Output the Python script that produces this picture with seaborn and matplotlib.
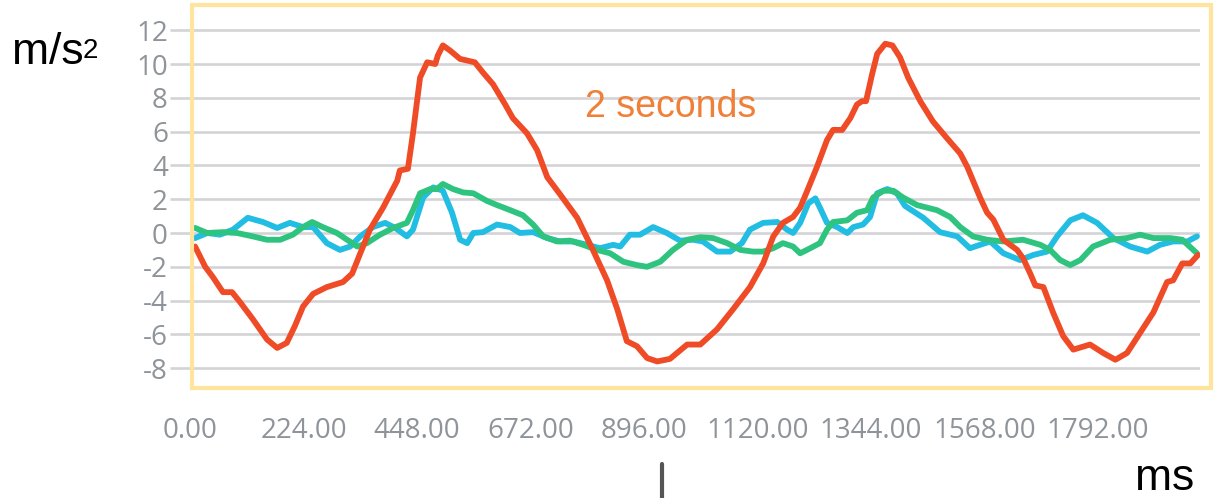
import matplotlib
matplotlib.use("Agg")
import matplotlib.pyplot as plt
import seaborn as sns
import pandas as pd
from matplotlib.patches import Rectangle
from matplotlib.lines import Line2D

sns.set_theme(style="white")
plt.rcParams["font.family"] = ["Open Sans", "DejaVu Sans"]

# Acceleration samples (time in ms, value in m/s^2)
vertical = [
    (10, -0.8), (30, -2.0), (45, -2.6), (65, -3.5), (83, -3.5), (99, -4.1),
    (124, -5.1), (152, -6.3), (172, -6.8), (191, -6.5), (207, -5.5), (223, -4.35),
    (243, -3.6), (270, -3.2), (302, -2.9), (320, -2.4), (336, -1.2), (355, 0.2),
    (381, 1.5), (409, 3.1), (414, 3.7), (430, 3.8), (440, 5.9), (448, 7.8),
    (454, 9.2), (468, 10.1), (484, 10.0), (489, 10.5), (499, 11.1), (513, 10.8),
    (533, 10.3), (562, 10.1), (578, 9.5), (598, 8.8), (622, 7.6), (637, 6.8),
    (665, 5.9), (685, 4.9), (705, 3.3), (730, 2.3), (764, 0.9), (795, -1.0),
    (823, -2.8), (843, -4.5), (862, -6.4), (882, -6.7), (902, -7.4), (922, -7.6),
    (947, -7.45), (981, -6.6), (1007, -6.6), (1040, -5.7), (1072, -4.5),
    (1105, -3.2), (1131, -1.8), (1151, -0.2), (1170, 0.6), (1190, 0.95),
    (1204, 1.5), (1218, 2.5), (1237, 3.9), (1257, 5.5), (1269, 6.1), (1287, 6.1),
    (1303, 6.8), (1316, 7.6), (1326, 7.8), (1334, 7.8), (1346, 9.4), (1356, 10.6),
    (1372, 11.2), (1386, 11.1), (1401, 10.4), (1417, 9.2), (1441, 7.8),
    (1466, 6.6), (1494, 5.6), (1520, 4.7), (1534, 3.9), (1559, 2.1), (1573, 1.2),
    (1585, 0.8), (1605, -0.4), (1632, -1.0), (1644, -1.5), (1658, -2.4),
    (1668, -3.1), (1684, -3.2), (1703, -4.7), (1723, -6.1), (1743, -6.9),
    (1776, -6.6), (1802, -7.1), (1826, -7.5), (1849, -7.1), (1875, -5.9),
    (1901, -4.7), (1928, -2.9), (1940, -2.8), (1958, -1.8), (1974, -1.8),
    (1989, -1.3),
]

lateral = [
    (10, -0.3), (34, 0.0), (59, -0.1), (85, 0.2), (114, 0.9), (144, 0.65),
    (172, 0.3), (197, 0.6), (223, 0.35), (243, 0.35), (270, -0.6), (296, -1.0),
    (316, -0.8), (336, -0.2), (361, 0.35), (385, 0.6), (405, 0.3), (428, -0.2),
    (440, 0.2), (460, 2.1), (480, 2.7), (499, 2.5), (517, 1.2), (533, -0.4),
    (547, -0.6), (559, 0.0), (578, 0.05), (606, 0.5), (632, 0.35), (651, 0.0),
    (677, 0.05), (705, -0.3), (730, -0.5), (756, -0.5), (784, -0.7), (809, -0.9),
    (835, -0.7), (849, -0.8), (868, -0.1), (888, -0.1), (914, 0.35), (941, 0.0),
    (967, -0.45), (993, -0.4), (1012, -0.5), (1040, -1.1), (1066, -1.1),
    (1089, -0.6), (1105, 0.2), (1131, 0.6), (1159, 0.65), (1178, 0.2),
    (1190, 0.0), (1204, 0.6), (1220, 1.75), (1234, 2.05), (1243, 1.5),
    (1257, 0.6), (1277, 0.35), (1297, 0.0), (1309, 0.35), (1328, 0.5),
    (1342, 0.95), (1356, 2.35), (1376, 2.6), (1395, 2.35), (1411, 1.6),
    (1447, 0.9), (1480, 0.05), (1514, -0.2), (1539, -0.9), (1559, -0.7),
    (1579, -0.5), (1605, -1.2), (1638, -1.6), (1664, -1.3), (1691, -1.1),
    (1711, -0.2), (1737, 0.75), (1762, 1.05), (1790, 0.6), (1822, -0.3),
    (1855, -0.8), (1889, -1.1), (1914, -0.7), (1940, -0.5), (1968, -0.5),
    (1987, -0.2),
]

forward = [
    (10, 0.3), (34, 0.0), (65, 0.05), (93, 0.0), (124, -0.2), (152, -0.4),
    (178, -0.4), (203, -0.1), (223, 0.35), (241, 0.65), (262, 0.35), (290, 0.0),
    (310, -0.4), (330, -0.8), (349, -0.6), (375, -0.1), (401, 0.3), (428, 0.6),
    (440, 1.35), (454, 2.35), (474, 2.6), (487, 2.6), (499, 2.9), (519, 2.6),
    (539, 2.4), (559, 2.35), (586, 1.9), (606, 1.65), (632, 1.35), (657, 1.05),
    (677, 0.5), (697, -0.2), (724, -0.5), (750, -0.45), (776, -0.7), (803, -1.0),
    (829, -1.2), (855, -1.7), (882, -1.9), (902, -2.0), (928, -1.7), (953, -1.0),
    (981, -0.4), (1007, -0.25), (1032, -0.3), (1060, -0.6), (1086, -1.0),
    (1111, -1.1), (1131, -1.1), (1151, -0.9), (1170, -0.6), (1190, -0.8),
    (1204, -1.2), (1224, -0.9), (1243, -0.6), (1257, 0.2), (1269, 0.65),
    (1297, 0.75), (1316, 1.2), (1336, 1.35), (1348, 2.1), (1368, 2.5),
    (1388, 2.5), (1407, 2.1), (1435, 1.65), (1474, 1.35), (1500, 0.95),
    (1520, 0.35), (1545, -0.2), (1573, -0.4), (1605, -0.5), (1644, -0.4),
    (1678, -0.7), (1697, -1.0), (1717, -1.6), (1737, -1.9), (1757, -1.6),
    (1782, -0.8), (1816, -0.4), (1849, -0.3), (1875, -0.1), (1901, -0.3),
    (1934, -0.3), (1958, -0.4), (1987, -1.2),
]

x_ticks = [0, 224, 448, 672, 896, 1120, 1344, 1568, 1792]
x_tick_labels = ["0.00", "224.00", "448.00", "672.00", "896.00",
                 "1120.00", "1344.00", "1568.00", "1792.00"]
y_ticks = [-8, -6, -4, -2, 0, 2, 4, 6, 8, 10, 12]

palette = {"lateral": "#22bde2", "forward": "#2fc380", "vertical": "#ef4b26"}

frames = []
for name, series in [("lateral", lateral), ("forward", forward), ("vertical", vertical)]:
    df = pd.DataFrame(series, columns=["ms", "value"])
    df["axis"] = name
    frames.append(df)
data = pd.concat(frames, ignore_index=True)

W, H = 1216, 498
fig = plt.figure(figsize=(W / 100, H / 100), dpi=100)
fig.patch.set_facecolor("white")

ax = fig.add_axes([190 / W, 1 - 385.1 / H, 1010 / W, 371.8 / H])
sns.lineplot(data=data, x="ms", y="value", hue="axis",
             hue_order=["lateral", "forward", "vertical"], palette=palette,
             estimator=None, sort=False, linewidth=4.2, legend=False, ax=ax)
for line in ax.lines:
    line.set_solid_capstyle("round")
    line.set_solid_joinstyle("round")

ax.set_xlim(0, 1993)
ax.set_ylim(-9, 13)
ax.set_xticks(x_ticks)
ax.set_xticklabels(x_tick_labels)
ax.set_yticks(y_ticks)
ax.set_yticklabels([str(v) for v in y_ticks])
ax.set_xlabel("")
ax.set_ylabel("")
for s in ax.spines.values():
    s.set_visible(False)
ax.set_facecolor("none")

grid_color = "#d4d4d6"
ax.yaxis.grid(True, color=grid_color, linewidth=1.9)
ax.xaxis.grid(False)
ax.set_axisbelow(True)
ax.tick_params(axis="y", left=True, length=14.4, width=1.9, color=grid_color,
               pad=1.5, labelsize=20, labelcolor="#8e949a")
ax.tick_params(axis="x", bottom=False, length=0, pad=23,
               labelsize=20, labelcolor="#8e949a")

# Time-span annotation
ax.text(780, 6.86, "2 seconds", color="#f07f38", fontsize=27,
        family=["Liberation Sans", "DejaVu Sans"], va="baseline", ha="left")

# Highlight frame around the plotting area
frame = Rectangle((192 / W, 1 - 388 / H), (1211 - 192) / W, (388 - 5) / H,
                  transform=fig.transFigure, fill=False,
                  edgecolor="#fee49c", linewidth=3.0)
fig.add_artist(frame)

# Axis units
unit_font = ["Liberation Sans", "DejaVu Sans"]
fig.text(12 / W, 1 - 64 / H, "m/s", fontsize=32, color="black",
         family=unit_font, va="baseline", ha="left")
fig.text(83 / W, 1 - 58 / H, "2", fontsize=20, color="black",
         family=unit_font, va="baseline", ha="left")
fig.text(1135 / W, 1 - 490 / H, "ms", fontsize=32, color="black",
         family=unit_font, va="baseline", ha="left")

# Small marker below the axis
fig.add_artist(Line2D([662 / W, 662 / W], [0, 1 - 464 / H],
                      transform=fig.transFigure, color="#555555", linewidth=3.0))

fig.savefig("out.png", dpi=100, facecolor="white")
